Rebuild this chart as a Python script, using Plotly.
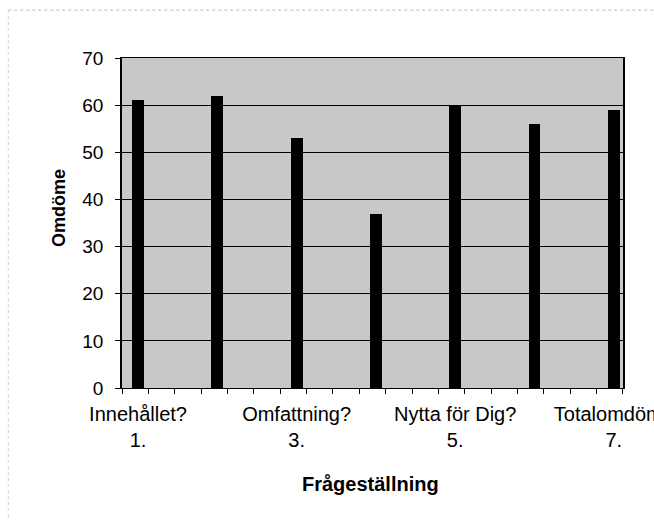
import plotly.graph_objects as go

# Data
categories = [1, 2, 3, 4, 5, 6, 7]
values = [61, 62, 53, 37, 60, 56, 59]
label_positions = [1, 3, 5, 7]
label_texts = ["Innehållet?<br>1.", "Omfattning?<br>3.", "Nytta för Dig?<br>5.", "Totalomdöme<br>7."]
y_ticks = [0, 10, 20, 30, 40, 50, 60, 70]
x_title = "Frågeställning"
y_title = "Omdöme"

FONT = "Liberation Sans, Arial, sans-serif"

fig = go.Figure()
fig.add_trace(go.Bar(
    x=categories, y=values, width=0.15,
    marker=dict(color="black", line=dict(width=0)),
    showlegend=False, hoverinfo="x+y",
))

fig.update_layout(
    width=654, height=530,
    margin=dict(l=122, r=31, t=58, b=142, autoexpand=False),
    paper_bgcolor="white",
    plot_bgcolor="#c8c8c8",
    font=dict(family=FONT, size=19, color="black"),
    bargap=0,
    xaxis=dict(
        range=[0.798, 7.116], automargin=False,
        tickmode="array", tickvals=label_positions, ticktext=label_texts,
        ticks="", showgrid=False, zeroline=False,
        showline=True, linecolor="black", linewidth=1, mirror=True,
        ticklabelstandoff=8, ticklabeloverflow="allow",
        tickfont=dict(size=20),
        minor=dict(ticks="outside", tickmode="linear", tick0=0.798, dtick=0.3325,
                   ticklen=5, tickcolor="black", tickwidth=1, showgrid=False),
    ),
    yaxis=dict(
        range=[0, 70], tickmode="array", tickvals=y_ticks, automargin=False,
        ticks="outside", ticklen=5, tickcolor="black",
        showgrid=True, gridcolor="black", gridwidth=1,
        zeroline=False,
        showline=True, linecolor="black", linewidth=1.5, mirror=True,
        ticklabelstandoff=8,
        tickfont=dict(size=19),
    ),
    annotations=[
        dict(text=f"<b>{x_title}</b>", xref="paper", yref="paper", x=0.496, y=-0.29,
             showarrow=False, font=dict(size=20), xanchor="center", yanchor="middle"),
        dict(text=f"<b>{y_title}</b>", xref="paper", yref="paper", x=-0.126, y=0.545,
             showarrow=False, font=dict(size=18), textangle=-90, xanchor="center", yanchor="middle"),
    ],
    shapes=[
        dict(type="line", xref="paper", yref="paper", x0=-0.227, x1=1.062, y0=1.145, y1=1.145,
             line=dict(color="#bbbbbb", width=1, dash="dot")),
        dict(type="line", xref="paper", yref="paper", x0=-0.227, x1=-0.227, y0=1.145, y1=-0.40,
             line=dict(color="#cccccc", width=1, dash="dot")),
    ],
)

fig.write_html(
    "out.html",
    config={"displayModeBar": False},
    post_script="document.body.style.margin='0';document.body.style.overflow='hidden';",
)
